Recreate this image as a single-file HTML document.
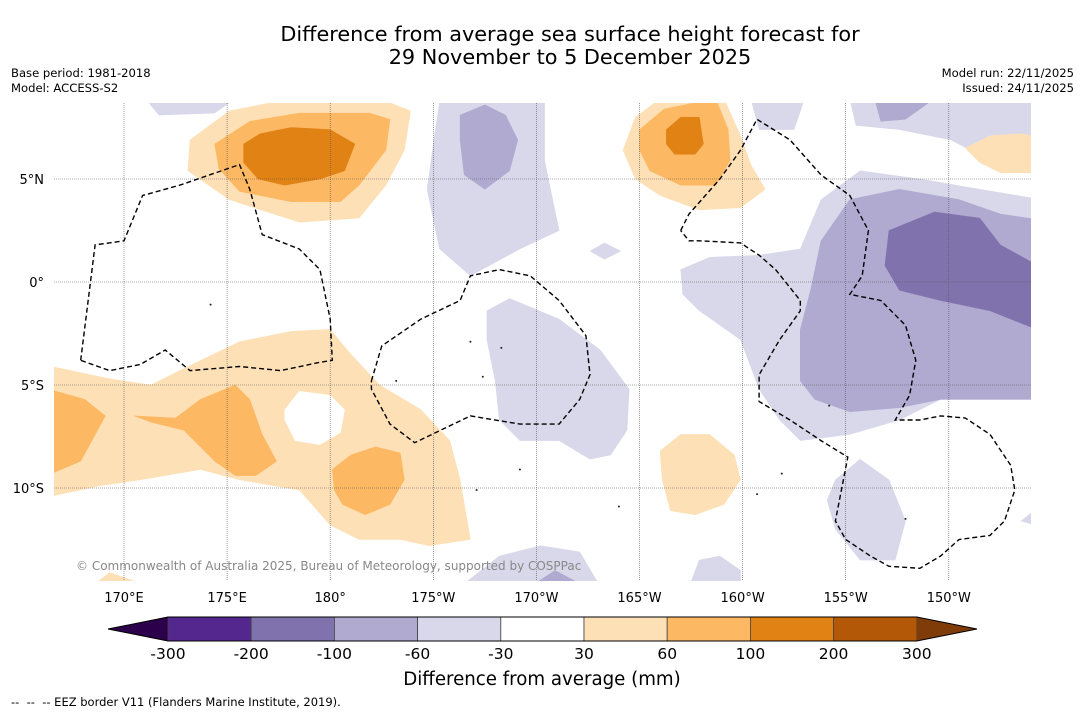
<!DOCTYPE html>
<html><head><meta charset="utf-8">
<style>
body{margin:0;background:#fff;width:1085px;height:713px;overflow:hidden;font-family:"DejaVu Sans","Liberation Sans",sans-serif;}
svg{display:block}
</style></head>
<body>
<svg id="chart" width="1085" height="713" viewBox="0 0 1085 713" xmlns="http://www.w3.org/2000/svg">
<text x="570" y="41" font-size="20.8" text-anchor="middle" fill="#000">Difference from average sea surface height forecast for</text>
<text x="570" y="64" font-size="20.8" text-anchor="middle" fill="#000">29 November to 5 December 2025</text>
<text x="11" y="77" font-size="11.6">Base period: 1981-2018</text>
<text x="11" y="92" font-size="11.6">Model: ACCESS-S2</text>
<text x="1074" y="77" font-size="11.6" text-anchor="end">Model run: 22/11/2025</text>
<text x="1074" y="92" font-size="11.6" text-anchor="end">Issued: 24/11/2025</text>
<defs><clipPath id="mapclip"><rect x="54" y="103" width="977" height="478"/></clipPath></defs>
<g id="map" clip-path="url(#mapclip)"></g>
<g id="axes"></g>
<g id="cbar"></g>
<text x="542" y="685" font-size="18.2" text-anchor="middle">Difference from average (mm)</text>
<text x="11" y="706" font-size="11.5">-- &#160;-- &#160;-- EEZ border V11 (Flanders Marine Institute, 2019).</text>
</svg>
<script>
const lonTicks=[170,175,180,185,190,195,200,205,210];
const lonLabels=["170°E","175°E","180°","175°W","170°W","165°W","160°W","155°W","150°W"];
const latTicks=[5,0,-5,-10];
const latLabels=["5°N","0°","5°S","10°S"];
const levels=["-300","-200","-100","-60","-30","30","60","100","200","300"];
const levelColors=["#54278f","#8073ad","#b0a9d0","#d8d8ea","#ffffff","#fee0b6","#fdb863","#e08214","#b35806"];
const lowExtendColor="#2d004b", highExtendColor="#7f3b08";

const lightPurple=[
[171.2,8.7,175.1,8.7,174.4,8.2,171.7,8.1],
[185.3,8.7,190.4,8.7,190.4,5.9,191.1,2.5,189.2,1.6,186.8,0.3,185.3,1.6,184.7,4.5,185.1,7.4],
[187.6,-1.4,188.7,-0.8,191.1,-1.8,193.1,-3.3,194.5,-5.2,194.4,-7.2,193.6,-8.4,192.6,-8.6,191.1,-7.7,189.2,-7.7,188.2,-6.7,188.0,-4.8,187.6,-2.8],
[197.0,0.6,198.4,1.2,200.8,1.3,202.8,1.6,203.8,4.0,205.7,5.4,208.6,5.0,211.5,4.5,214.5,4.0,214.5,-5.7,209.6,-5.7,207.6,-6.7,205.2,-7.4,202.8,-7.7,201.8,-6.7,200.8,-5.2,199.9,-2.8,197.9,-1.4,197.1,-0.6],
[200.4,8.9,203.0,8.9,202.5,7.4,200.8,7.4],
[205.2,8.9,214.5,8.9,214.5,5.4,212.0,5.9,210.1,6.9,207.6,7.4,205.5,7.6],
[204.5,-9.6,205.7,-8.6,207.1,-9.6,207.9,-11.6,207.4,-13.5,205.7,-13.5,204.5,-12.0,204.1,-10.6],
[186.3,-14.8,188.2,-13.3,190.2,-12.8,192.1,-13.1,193.1,-14.8],
[197.4,-14.8,197.9,-13.5,198.9,-13.3,199.9,-14.0,199.9,-14.8],
[213.5,-11.6,214.5,-10.8,214.5,-11.9],
[192.6,1.5,193.3,1.9,194.1,1.5,193.3,1.1]];
const medPurple=[
[186.3,8.1,187.5,8.6,188.5,8.1,189.1,6.9,188.7,5.4,187.5,4.5,186.5,5.2,186.3,6.9],
[203.3,-0.4,203.8,2.0,205.2,4.0,207.6,4.5,210.5,4.0,212.5,3.3,214.5,3.0,214.5,-5.7,209.6,-5.7,207.6,-6.1,205.2,-6.3,203.5,-5.7,202.8,-4.8,202.8,-2.3],
[206.4,8.9,209.3,8.9,207.9,7.9,206.7,7.8],
[189.7,-14.8,190.9,-14.0,192.4,-14.8]];
const darkPurple=[
[207.1,2.5,209.3,3.4,211.5,3.1,212.5,1.8,214.5,0.7,214.5,-2.4,212.0,-1.4,209.6,-0.9,207.6,-0.4,206.9,0.8]];
const lightOrange=[
[173.2,6.9,175.1,8.3,178.1,8.9,182.4,8.9,183.9,8.3,183.6,6.4,182.7,4.7,181.4,3.1,178.5,2.9,175.1,4.0,173.1,5.4],
[194.2,6.4,194.8,8.0,196.0,8.9,199.1,8.9,199.9,7.1,200.4,5.7,201.1,4.5,199.9,3.6,197.9,3.5,196.0,4.2,194.8,5.0],
[166.0,-4.0,169.3,-4.7,171.3,-5.0,172.7,-4.3,175.6,-2.9,178.1,-2.4,180.0,-2.3,181.0,-3.5,182.4,-5.0,184.4,-6.2,185.8,-7.7,186.3,-9.6,186.8,-12.5,184.8,-12.8,183.4,-12.5,181.4,-12.5,180.0,-11.8,178.5,-10.1,175.6,-9.6,173.7,-9.1,170.8,-9.6,168.8,-9.9,166.0,-10.5],
[196.0,-8.2,197.0,-7.4,198.4,-7.4,199.6,-8.4,199.9,-9.6,199.1,-10.8,197.7,-11.3,196.5,-11.1,196.1,-9.6],
[168.4,-14.8,169.3,-14.1,171.3,-14.8],
[210.8,6.5,212.0,7.1,213.5,7.2,214.5,7.0,214.5,5.3,212.5,5.3,211.5,5.8]];
const neutralHole=[
[177.8,-6.2,178.5,-5.3,180.0,-5.5,180.7,-6.2,180.5,-7.3,179.5,-7.9,178.3,-7.7,177.8,-6.7]];
const medOrange=[
[174.4,6.7,176.1,7.8,178.5,8.2,181.9,8.2,182.9,7.9,182.7,6.4,181.4,4.7,180.5,3.9,178.1,3.9,175.6,4.4,174.6,5.5],
[195.0,7.4,196.2,8.4,198.7,8.9,199.3,7.4,199.4,5.9,198.7,4.7,197.0,4.7,195.5,5.4,195.0,6.4],
[166.0,-5.1,168.1,-5.7,169.1,-6.5,167.9,-8.7,166.0,-9.5],
[170.5,-6.5,172.5,-6.6,173.7,-5.7,175.4,-5.0,176.1,-5.7,176.7,-7.4,177.4,-8.7,176.4,-9.4,175.4,-9.4,174.4,-8.7,172.9,-7.2,171.3,-6.8],
[180.1,-9.1,181.0,-8.4,182.2,-8.0,183.4,-8.3,183.6,-9.6,182.9,-10.8,181.7,-11.3,180.6,-10.8,180.2,-10.1]];
const darkOrange=[
[175.8,6.7,176.6,7.2,178.1,7.5,180.0,7.4,181.2,6.7,180.7,5.4,179.5,5.0,177.8,4.7,176.5,5.0,175.8,5.8],
[196.3,7.4,197.0,8.0,197.9,8.0,198.1,6.7,197.7,6.2,196.7,6.2,196.3,6.7]];
const eezBorders=[
[167.9,-3.8,168.6,1.8,170.0,2.0,170.9,4.2,172.7,4.7,175.6,5.7,176.1,4.5,176.7,2.3,178.5,1.6,179.5,0.6,180.0,-1.8,180.1,-3.8,179.5,-3.9,177.6,-4.3,175.6,-4.1,173.2,-4.3,172.0,-3.3,170.8,-4.0,169.3,-4.3,167.9,-3.8],
[182.0,-4.8,182.5,-3.1,184.4,-1.8,186.3,-0.9,186.8,0.3,188.2,0.6,189.7,0.3,191.1,-0.9,192.4,-2.6,192.6,-4.5,192.1,-5.7,191.1,-6.9,189.2,-6.9,186.8,-6.5,184.1,-7.8,182.9,-6.9,182.0,-5.2,182.0,-4.8],
[197.0,2.5,197.4,3.3,198.9,5.0,199.9,6.4,200.7,7.9,202.3,6.9,203.8,5.2,205.2,4.2,206.1,2.5,205.8,0.3,205.2,-0.6,206.7,-0.9,207.9,-2.1,208.4,-3.8,208.1,-5.5,207.4,-6.7,208.6,-6.7,209.6,-6.5,210.8,-6.6,212.0,-7.4,213.0,-8.9,213.2,-10.1,212.7,-11.6,212.0,-12.3,210.5,-12.5,209.6,-13.3,208.6,-13.9,207.1,-13.8,206.2,-13.3,205.0,-12.5,204.5,-11.6,205.1,-8.5,203.8,-7.7,202.3,-6.7,200.8,-5.8,200.8,-4.5,201.8,-2.8,202.8,-1.4,202.8,-0.9,201.6,0.6,200.8,1.3,199.9,1.9,197.9,2.0,197.4,2.0,197.0,2.5]];
const islands=[[186.8,-2.9],[188.3,-3.2],[183.2,-4.8],[187.4,-4.6],[189.2,-9.1],[174.2,-1.1],[187.1,-10.1],[207.9,-11.5],[200.7,-10.3],[201.9,-9.3],[194.0,-10.9],[204.2,-6.0]];

const NS="http://www.w3.org/2000/svg";
const X0=124,DX=20.62,Y0=282,DY=20.6;
function xs(lon){return X0+(lon-170)*DX;}
function ys(lat){return Y0-lat*DY;}
function mk(tag,attrs,parent){const e=document.createElementNS(NS,tag);for(const k in attrs)e.setAttribute(k,attrs[k]);parent.appendChild(e);return e;}
const map=document.getElementById('map');
function pts(a){let s=[];for(let i=0;i<a.length;i+=2)s.push(xs(a[i]).toFixed(1)+','+ys(a[i+1]).toFixed(1));return s.join(' ');}
function drawSet(set,color,name){set.forEach(p=>{const e=mk('polygon',{points:pts(p),fill:color,stroke:color,'stroke-width':0.5},map);

});}
drawSet(lightPurple,levelColors[3],'contour-minus60-minus30');
drawSet(medPurple,levelColors[2],'contour-minus100-minus60');
drawSet(darkPurple,levelColors[1],'contour-minus200-minus100');
drawSet(lightOrange,levelColors[5],'contour-30-60');
drawSet(neutralHole,levelColors[4],'contour-neutral');
drawSet(medOrange,levelColors[6],'contour-60-100');
drawSet(darkOrange,levelColors[7],'contour-100-200');
lonTicks.forEach(l=>{const e=mk('line',{x1:xs(l),x2:xs(l),y1:103,y2:581,stroke:'#555','stroke-width':0.6,'stroke-dasharray':'1,1'},map);

});
latTicks.forEach(l=>{const e=mk('line',{x1:54,x2:1031,y1:ys(l),y2:ys(l),stroke:'#555','stroke-width':0.6,'stroke-dasharray':'1,1'},map);

});
eezBorders.forEach(b=>{const e=mk('polyline',{points:pts(b),fill:'none',stroke:'#000','stroke-width':1.4,'stroke-dasharray':'5,3'},map);

});
islands.forEach(p=>{const e=mk('circle',{cx:xs(p[0]),cy:ys(p[1]),r:1,fill:'#222'},map);

});
const cr=mk('text',{x:76,y:570,'font-size':12,fill:'#888'},map);


cr.textContent='© Commonwealth of Australia 2025, Bureau of Meteorology, supported by COSPPac';
const axes=document.getElementById('axes');
lonTicks.forEach((l,i)=>{const t=mk('text',{x:xs(l),y:602,'font-size':13,'text-anchor':'middle'},axes);


t.textContent=lonLabels[i];});
latTicks.forEach((l,i)=>{const t=mk('text',{x:44,y:ys(l)+5,'font-size':13,'text-anchor':'end'},axes);


t.textContent=latLabels[i];});
const cb=document.getElementById('cbar');
const cbX0=168,cbW=83.2,cbY=617,cbH=24;
const lo=mk('polygon',{points:`108,629 ${cbX0},${cbY} ${cbX0},${cbY+cbH}`,fill:lowExtendColor},cb);


levelColors.forEach((c,i)=>{const r=mk('rect',{x:cbX0+i*cbW,y:cbY,width:cbW,height:cbH,fill:c,stroke:'#444','stroke-width':0.8},cb);

});
const xe=cbX0+levelColors.length*cbW;
const hi=mk('polygon',{points:`${xe},${cbY} 977,629 ${xe},${cbY+cbH}`,fill:highExtendColor},cb);


mk('polygon',{points:`108,629 ${cbX0},${cbY} ${xe},${cbY} 977,629 ${xe},${cbY+cbH} ${cbX0},${cbY+cbH}`,fill:'none',stroke:'#000','stroke-width':1},cb);
levels.forEach((v,i)=>{const t=mk('text',{x:cbX0+i*cbW,y:659,'font-size':15.5,'text-anchor':'middle'},cb);


t.textContent=v;});
</script>
</body></html>
